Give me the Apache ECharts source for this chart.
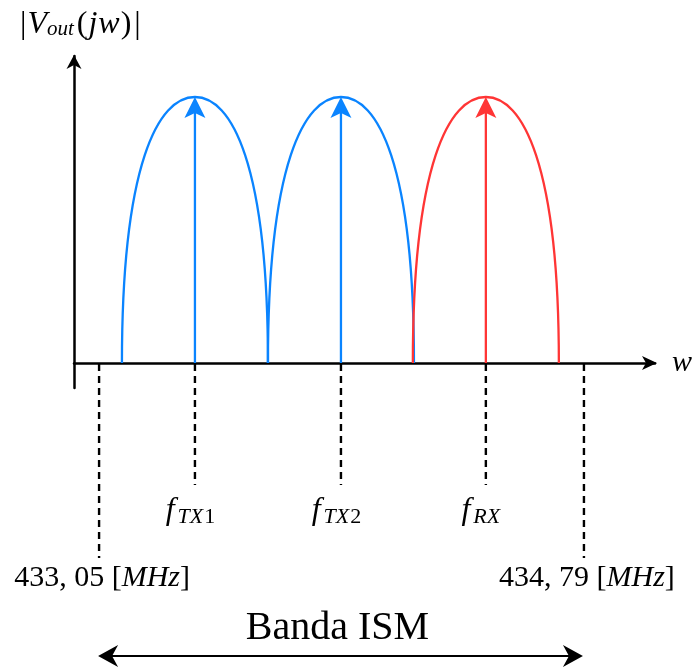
<!DOCTYPE html>
<html>
<head>
<meta charset="utf-8">
<script src="https://cdn.jsdelivr.net/npm/echarts@6/dist/echarts.min.js"></script>
<style>html,body{margin:0;padding:0;background:#fff}#c{width:697px;height:669px}</style>
</head>
<body>
<div id="c"></div>
<script>
// ---------------- data ----------------
const xRange = [432.960, 435.045];          // visible w axis, MHz
const yRange = [-0.094, 1.1541];            // |Vout(jw)| (normalised)
const carrierNames = ['TX1', 'TX2', 'RX'];
const carrierKinds = ['tx', 'tx', 'rx'];
const carrierFreqs = [433.394, 433.918, 434.438];   // MHz
const carrierAmps = [1, 1, 1];
const lobeHalfWidths = [0.262, 0.262, 0.262];        // MHz
const bandEdges = [433.05, 434.79];                  // MHz
const bandEdgeLabels = ['433, 05', '434, 79'];
const bandUnit = 'MHz';
const bandName = 'Banda ISM';

// ---------------- style helpers ----------------
const SERIF = '"Liberation Serif", "Times New Roman", serif';
const kindColor = { tx: '#0A84FF', rx: '#FF3535' };
const MID = 0.26;
const mctx = document.createElement('canvas').getContext('2d');
function tw(text, size, italic) {
  mctx.font = (italic ? 'italic ' : '') + size + 'px ' + SERIF;
  return mctx.measureText(text).width;
}
function txt(text, x, baseline, size, italic, align) {
  return {
    type: 'text', x: x, y: baseline - MID * size,
    style: { text: text, fontFamily: SERIF, fontSize: size, fontStyle: italic ? 'italic' : 'normal',
             fill: '#000', align: align || 'left', verticalAlign: 'middle' }
  };
}
const DASH = { stroke: '#000', lineWidth: 2.4, lineDash: [7, 5] };

function renderCarrier(params, api) {
  const idx = params.dataIndex;
  const f = api.value(0), amp = api.value(1), hw = api.value(2);
  const color = kindColor[carrierKinds[idx]];
  const pL = api.coord([f - hw, 0]), pT = api.coord([f, amp]), pR = api.coord([f + hw, 0]), p0 = api.coord([f, 0]);
  const a = pT[0] - pL[0], b = pL[1] - pT[1], kx = 0.5, ky = 0.75;
  const d = 'M' + pL[0] + ' ' + pL[1] +
    ' C' + pL[0] + ' ' + (pL[1] - ky * b) + ' ' + (pT[0] - kx * a) + ' ' + pT[1] + ' ' + pT[0] + ' ' + pT[1] +
    ' C' + (pT[0] + kx * a) + ' ' + pT[1] + ' ' + pR[0] + ' ' + (pR[1] - ky * b) + ' ' + pR[0] + ' ' + pR[1];
  const children = [
    { type: 'path', shape: { pathData: d }, style: { fill: 'none', stroke: color, lineWidth: 2.3 } },
    { type: 'line', shape: { x1: p0[0], y1: p0[1], x2: pT[0], y2: pT[1] + 14 }, style: { stroke: color, lineWidth: 2.3 } },
    { type: 'polygon', shape: { points: [[pT[0], pT[1]], [pT[0] + 10.5, pT[1] + 21], [pT[0], pT[1] + 16], [pT[0] - 10.5, pT[1] + 21]] },
      style: { fill: color } },
    { type: 'line', shape: { x1: p0[0], y1: p0[1] + 1, x2: p0[0], y2: p0[1] + 122 }, style: DASH }
  ];
  const m = carrierNames[idx].match(/^([A-Za-z]+)(\d*)$/);
  const letters = m[1], digits = m[2];
  const FS = 32, SS = 22;
  const wf = tw('f', FS, true), wl = tw(letters, SS, true), wd = tw(digits, SS, false);
  const gap = 3;
  const total = wf + gap + wl + wd;
  const left = p0[0] - 5 - total / 2;
  children.push(txt('f', left, p0[1] + 156, FS, true));
  children.push(txt(letters, left + wf + gap, p0[1] + 160, SS, true));
  if (digits) children.push(txt(digits, left + wf + gap + wl + 1, p0[1] + 160, SS, false));
  return { type: 'group', children: children };
}

function renderEdge(params, api) {
  const idx = params.dataIndex;
  const p0 = api.coord([api.value(0), 0]);
  const fs = 30;
  return {
    type: 'group', children: [
      { type: 'line', shape: { x1: p0[0], y1: p0[1] + 1, x2: p0[0], y2: p0[1] + 195 }, style: DASH },
      { type: 'text', x: p0[0] + 3, y: p0[1] + 223 - MID * fs,
        style: {
          text: '{n|' + bandEdgeLabels[idx] + ' [}{i|' + bandUnit + '}{n|]}',
          rich: {
            n: { fontFamily: SERIF, fontSize: fs, fill: '#000' },
            i: { fontFamily: SERIF, fontSize: fs, fontStyle: 'italic', fill: '#000' }
          },
          align: 'center', verticalAlign: 'middle'
        } }
    ]
  };
}

function renderBand(params, api) {
  const pa = api.coord([api.value(0), 0]), pb = api.coord([api.value(1), 0]);
  const y = pa[1] + 293;
  const xa = pa[0] - 1, xb = pb[0] - 1;
  return {
    type: 'group', children: [
      { type: 'line', shape: { x1: xa + 12, y1: y, x2: xb - 12, y2: y }, style: { stroke: '#000', lineWidth: 2.2 } },
      { type: 'polygon', shape: { points: [[xa, y], [xa + 20, y - 11], [xa + 14, y], [xa + 20, y + 11]] }, style: { fill: '#000' } },
      { type: 'polygon', shape: { points: [[xb, y], [xb - 20, y - 11], [xb - 14, y], [xb - 20, y + 11]] }, style: { fill: '#000' } },
      txt(bandName, (pa[0] + pb[0]) / 2 - 4, pa[1] + 276, 40, false, 'center')
    ]
  };
}

// arrow heads at the ends of both axes
function renderAxisHeads(params, api) {
  const px = api.coord([api.value(0), 0]);        // end of w axis
  const py = api.coord([api.value(1), api.value(2)]); // top of |V| axis
  return {
    type: 'group', children: [
      { type: 'polygon', shape: { points: [[px[0] + 2, px[1]], [px[0] - 13, px[1] - 7], [px[0] - 9, px[1]], [px[0] - 13, px[1] + 7]] },
        style: { fill: '#000' } },
      { type: 'polygon', shape: { points: [[py[0], py[1] - 1], [py[0] + 7.5, py[1] + 13], [py[0], py[1] + 9], [py[0] - 7.5, py[1] + 13]] },
        style: { fill: '#000' } }
    ]
  };
}

// title |V_out(jw)|
const titleParts = [
  ['|', 32, 33, false, 1], ['V', 32, 33, true, 0], ['out', 21, 35, true, 3],
  ['(', 32, 33, false, 1], ['j', 32, 33, true, 1], ['w', 32, 33, true, 1],
  [')', 32, 33, false, 3], ['|', 32, 33, false, 0]
];
const titleEls = [];
(function () {
  let x = 20;
  titleParts.forEach(p => {
    titleEls.push(txt(p[0], x, p[2], p[1], p[3]));
    x += tw(p[0], p[1], p[3]) + p[4];
  });
})();

const chart = echarts.init(document.getElementById('c'));
chart.setOption({
  animation: false,
  backgroundColor: '#fff',
  grid: { left: 74, right: 42, top: 56, bottom: 281, containLabel: false, outerBoundsMode: 'none' },
  xAxis: {
    type: 'value', min: xRange[0], max: xRange[1],
    axisLine: { onZero: true, lineStyle: { color: '#000', width: 2.5 } },
    axisTick: { show: false }, axisLabel: { show: false }, splitLine: { show: false },
    name: 'w', nameLocation: 'end', nameGap: 17,
    nameTextStyle: { fontFamily: SERIF, fontStyle: 'italic', fontSize: 30, color: '#000',
                     padding: [0, 0, 12, 0], align: 'left', verticalAlign: 'middle' }
  },
  yAxis: {
    type: 'value', min: yRange[0], max: yRange[1],
    axisLine: { onZero: true, lineStyle: { color: '#000', width: 2.5 } },
    axisTick: { show: false }, axisLabel: { show: false }, splitLine: { show: false }
  },
  graphic: titleEls,
  series: [
    { type: 'custom', name: 'axes', renderItem: renderAxisHeads, clip: false, z: 3,
      encode: { x: 0, y: 2 },
      data: [[xRange[1], xRange[0], yRange[1]]] },
    { type: 'custom', name: 'carriers', renderItem: renderCarrier, clip: false,
      data: carrierFreqs.map((f, i) => [f, carrierAmps[i], lobeHalfWidths[i]]) },
    { type: 'custom', name: 'edges', renderItem: renderEdge, clip: false,
      data: bandEdges.map(e => [e, 0]) },
    { type: 'custom', name: 'band', renderItem: renderBand, clip: false,
      encode: { x: [0, 1], y: 2 },
      data: [[bandEdges[0], bandEdges[1], 0]] }
  ]
});
</script>
</body>
</html>
